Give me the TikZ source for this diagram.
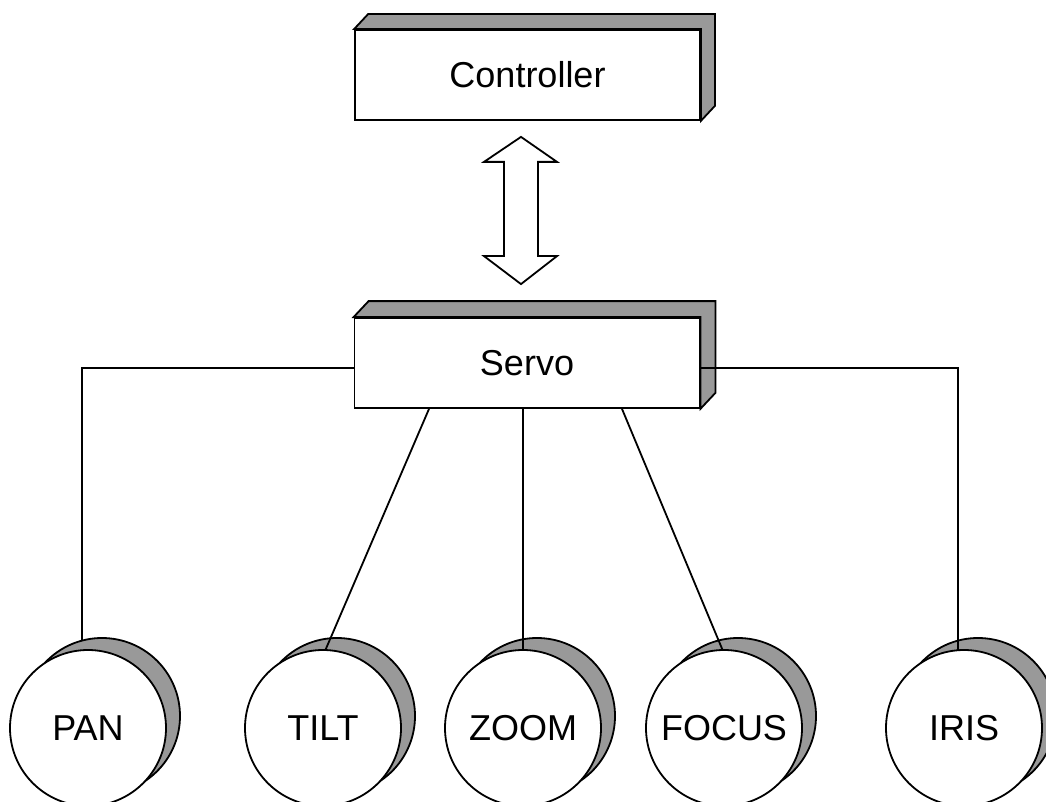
\documentclass[tikz,border=0pt]{standalone}
\usepackage{fontspec}
\setmainfont{Liberation Sans}
\usetikzlibrary{calc}
\definecolor{sidegrey}{HTML}{999999}
\tikzset{
  box/.style={draw, fill=white, line width=1.8pt, minimum width=345pt, minimum height=90pt, inner sep=0pt, font=\fontsize{36}{40}\selectfont},
  side/.style={draw, fill=sidegrey, line width=1.8pt, line join=miter},
  disc/.style={circle, draw, fill=white, line width=1.8pt, minimum size=156pt, inner sep=0pt, font=\fontsize{36}{40}\selectfont},
  backdisc/.style={draw, fill=sidegrey, line width=1.8pt},
  wire/.style={line width=1.8pt},
  bigarrow/.style={draw, fill=white, line width=1.8pt, line join=miter},
}
\begin{document}
\begin{tikzpicture}[x=1pt, y=-1pt]
\useasboundingbox (0,0) rectangle (1046,802);
% boxes
\node[box] (ctrl) at (527.5,75) {Controller};
\draw[side] (ctrl.north west) -- ++(14,-15) -- ($(ctrl.north east)+(14,-15)$) -- ($(ctrl.south east)+(14,-15)$) -- (ctrl.south east) -- (ctrl.north east) -- cycle;
\node[box] (servo) at (527,363) {Servo};
\draw[side] (servo.north west) -- ++(15,-16) -- ($(servo.north east)+(15,-16)$) -- ($(servo.south east)+(15,-16)$) -- (servo.south east) -- (servo.north east) -- cycle;
% double arrow between controller and servo
\coordinate (atop) at ($(ctrl.south)+(-6.5,16)$);
\coordinate (abot) at ($(servo.north)+(-6,-33)$);
\draw[bigarrow] (atop) -- ++(36,25) -- ++(-19,0) -- ($(abot)+(17,-28)$) -- ++(19,0) -- (abot) -- ++(-37,-28) -- ++(20,0) -- ($(atop)+(-17,25)$) -- ++(-20,0) -- cycle;
% back discs
\foreach \n/\x in {pan/88,tilt/323,zoom/523,focus/724,iris/964}{
  \draw[backdisc] (\x+14,716) circle[radius=78pt];
}
% wire endpoints
\coordinate (panTop) at (82,641);
\coordinate (tiltTop) at (325,651);
\coordinate (zoomTop) at (523,651);
\coordinate (focusTop) at (723,651);
\coordinate (irisTop) at (958,650);
% wires
\draw[wire] ([yshift=-5pt]servo.west) -| (panTop);
\draw[wire] ([yshift=-5pt]servo.east) -| (irisTop);
\draw[wire] ([xshift=-98pt]servo.south) -- (tiltTop);
\draw[wire] ([xshift=-4pt]servo.south) -- (zoomTop);
\draw[wire] ([xshift=95pt]servo.south) -- (focusTop);
% front discs
\node[disc] (pan) at (88,728) {PAN};
\node[disc] (tilt) at (323,728) {TILT};
\node[disc] (zoom) at (523,728) {ZOOM};
\node[disc] (focus) at (724,728) {FOCUS};
\node[disc] (iris) at (964,728) {IRIS};
\end{tikzpicture}
\end{document}
